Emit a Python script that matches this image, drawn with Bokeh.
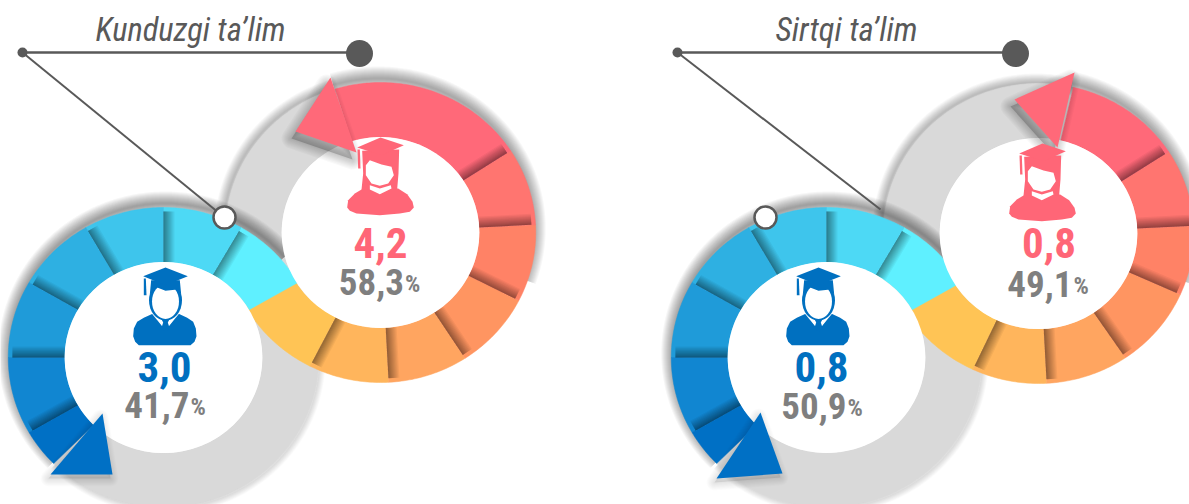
import numpy as np
from bokeh.plotting import figure
from bokeh.models import Range1d
from bokeh.core.properties import value
from bokeh.embed import file_html
from bokeh.resources import INLINE

# ---- data ----
titles = ["Kunduzgi ta\u2019lim", "Sirtqi ta\u2019lim"]
male_values = ["3,0", "0,8"]
male_shares = ["41,7", "50,9"]
female_values = ["4,2", "0,8"]
female_shares = ["58,3", "49,1"]
percent_sign = "%"

# ---- styles ----
BLUE_SEGMENTS = ["#5FF0FF", "#4DD9F5", "#3EC5EC", "#2EB0E2", "#1F9BD9", "#1186D1", "#0070C5"]
WARM_SEGMENTS = ["#FFC455", "#FFB55C", "#FFA560", "#FF9561", "#FF8266", "#FF7570", "#FF6979"]
BLUE = "#0070C0"
ROSE = "#FF6677"
ARROW_BLUE = "#0070C5"
ARROW_ROSE = "#FF6979"
RING_GREY = "#D9D9D9"
TEXT_GREY = "#7F7F7F"
INK = "#595959"
FONT = "Roboto Condensed"

# ---- layout, in page pixels ----
W, H = 1189, 504
p = figure(width=W, height=H, x_range=Range1d(0, W), y_range=Range1d(0, H),
           x_axis_type=None, y_axis_type=None, output_backend="svg", toolbar_location=None,
           min_border=0, outline_line_color=None, background_fill_color="white")
p.grid.visible = False

def Y(py):
    return 504 - py

R_OUT, R_IN = 150, 95.5
SX = 1.035   # the rings of the original are slightly wider than tall

panels = [
    dict(title_x=190, line=(22, 359), diag_end=(224, 217), marker=(224, 217),
         blue=(163, 357), rose=(380, 232),
         blue_edges=[30, 60, 90, 120, 150, 180, 210, 225],
         rose_edges=[210, 243, 273, 303, 333, 363, 393, 467],
         blue_arrow=[(102, 413), (50, 474), (112, 474)],
         rose_arrow=[(330, 77), (295, 131), (356, 152)],
         man=(165, 267), woman=(380, 137),
         val_b=(164, 382), share_b=(189, 418), val_r=(380, 258), share_r=(403.5, 295)),
    dict(title_x=846, line=(677, 1015), diag_end=(880, 209), marker=(765, 217),
         blue=(826, 357), rose=(1038, 233),
         blue_edges=[30, 60, 90, 120, 150, 180, 210, 225],
         rose_edges=[211, 245, 273, 304, 336, 363, 393, 437],
         blue_arrow=[(760, 412), (716, 478), (782, 473)],
         rose_arrow=[(1074, 72), (1014, 99), (1057, 147)],
         man=(818, 267), woman=(1042, 143),
         val_b=(821, 382), share_b=(846, 419), val_r=(1048.5, 258), share_r=(1072, 297)),
]

MAN_HAT = [(98, 78), (165, 52), (232, 78), (165, 105)]
MAN_TASSEL = [(100, 85), (106, 85), (108, 135), (100, 135)]
MAN_BODY = [(68, 258), (70, 235), (80, 215), (100, 203), (128, 190), (165, 240), (203, 190), (230, 203),
            (248, 215), (256, 235), (258, 258), (252, 275), (240, 285), (85, 285), (74, 275)]
MAN_V = [(122, 188), (165, 240), (208, 188), (190, 175), (140, 175)]
MAN_TIE = [(152, 205), (178, 205), (172, 217), (178, 236), (165, 244), (152, 236), (158, 217)]
MAN_HAIR = [(122, 90), (208, 90), (212, 132), (200, 118), (165, 122), (140, 112), (118, 132)]

WOMAN_HAT = [(112, 82), (182, 52), (252, 75), (185, 105)]
WOMAN_TASSEL = [(113, 88), (120, 88), (122, 145), (115, 145)]
WOMAN_HAIR = [(127, 92), (238, 88), (236, 160), (232, 207), (125, 209), (130, 160)]
WOMAN_FACE = [(150, 120), (185, 133), (215, 140), (222, 165), (205, 190), (180, 197), (155, 190),
              (138, 165), (138, 135)]
WOMAN_BODY = [(82, 262), (85, 240), (105, 220), (130, 205), (235, 205), (262, 222), (278, 245),
              (282, 262), (270, 275), (240, 280), (180, 285), (110, 280), (90, 272)]
WOMAN_COLLAR = [(150, 195), (180, 205), (213, 195), (215, 205), (180, 222), (150, 208)]


def arc_pts(cx, cy, r, a0, a1):
    t = np.deg2rad(np.linspace(a0, a1, max(8, int(abs(a1 - a0)) + 2)))
    return cx + SX * r * np.cos(t), Y(cy) + r * np.sin(t)


def soft_arc(cx, cy, r, a0, a1, spread, alpha, off=(0, 0), n=12):
    xs, ys = arc_pts(cx + off[0], cy + off[1], r, a0, a1)
    for k in range(1, n + 1):
        p.line(xs, ys, line_color="black", line_alpha=alpha / n, line_width=2 * k * spread / n)


def poly(pts, color, alpha=1.0):
    xs, ys = zip(*pts)
    p.patch(list(xs), [Y(y) for y in ys], fill_color=color, fill_alpha=alpha, line_color=None)


def soft_poly(pts, off, spread, alpha, n=9):
    xs = [x + off[0] for x, _ in pts]
    ys = [Y(y + off[1]) for _, y in pts]
    for k in range(1, n + 1):
        p.patch(xs, ys, fill_alpha=0, line_color="black", line_alpha=alpha / n,
                line_width=2 * k * spread / n, line_join="round")
    p.patch(xs, ys, fill_color="black", fill_alpha=alpha, line_color=None)


def band(cx, cy, a0, a1, color):
    ox, oy = arc_pts(cx, cy, R_OUT, a0, a1)
    ix, iy = arc_pts(cx, cy, R_IN, a0, a1)
    p.patch(np.r_[ox, ix[::-1]], np.r_[oy, iy[::-1]], fill_color=color, line_color=color, line_width=0.5)


def divider_shadow(cx, cy, angle, sign, width=11, alpha=0.5, n=11):
    a = np.deg2rad(angle)
    u = np.array([SX * np.cos(a), np.sin(a)])
    t = sign * np.array([-np.sin(a), np.cos(a)])
    for k in range(1, n + 1):
        w = width * (k / n) ** 1.2
        pts = [u * R_IN, u * (R_OUT - 4), u * (R_OUT - 4) + t * w, u * R_IN + t * w]
        p.patch([cx + q[0] for q in pts], [Y(cy) + q[1] for q in pts], fill_color="black",
                fill_alpha=alpha / n, line_color=None)


def icon(shapes, anchor, origin):
    ax, ay = anchor
    ox, oy = origin
    for pts, col in shapes:
        poly([(ax + (x - ox) / 3, ay + (y - oy) / 3) for x, y in pts], col)


def label(x, y, text, size, color, align="center", style="bold"):
    p.text([x], [Y(y - TEXT_LIFT[size])], text=[text], text_align=align, text_baseline="alphabetic",
           text_font=value(FONT), text_font_style=style, text_font_size=f"{size}px", text_color=color)


TEXT_LIFT = {32.5: 13, 43: 16, 37: 14, 24: 12}

for i, cfg in enumerate(panels):
    bx, by = cfg["blue"]
    rx, ry = cfg["rose"]
    be, re = cfg["blue_edges"], cfg["rose_edges"]

    # grey ring tails with their soft shadows
    soft_arc(bx, by, R_OUT, be[-1], 390, 6, 0.14, off=(1, 1))
    band(bx, by, be[-1], 390, RING_GREY)
    soft_arc(rx, ry, R_OUT, re[-1] - 360 if re[-1] > 360 else re[-1], re[0], 9, 0.28, off=(-2, -1))
    band(rx, ry, re[-1] - 360 if re[-1] > 360 else re[-1], re[0], RING_GREY)

    # coloured rose ring
    soft_arc(rx, ry, R_OUT, -20, re[-1] - 360, 12, 0.36, off=(-2, -4))
    for a0, a1, col in zip(re[:-1], re[1:], WARM_SEGMENTS):
        band(rx, ry, a0, a1, col)
    for a in re[1:-1]:
        divider_shadow(rx, ry, a, +1)

    # coloured blue ring
    soft_arc(bx, by, R_OUT, 40, be[-1], 12, 0.4, off=(2, -4))
    for a0, a1, col in zip(be[:-1], be[1:], BLUE_SEGMENTS):
        band(bx, by, a0, a1, col)
    for a in be[1:-1]:
        divider_shadow(bx, by, a, -1)

    # white hubs
    p.ellipse(bx, Y(by), width=2 * R_IN * SX, height=2 * R_IN, fill_color="white", line_color=None)
    p.ellipse(rx, Y(ry), width=2 * R_IN * SX, height=2 * R_IN, fill_color="white", line_color=None)

    # arrow heads
    soft_poly(cfg["blue_arrow"], (-2, 4), 8, 0.09)
    poly(cfg["blue_arrow"], ARROW_BLUE)
    soft_poly(cfg["rose_arrow"], (-4, 7), 10, 0.2)
    poly(cfg["rose_arrow"], ARROW_ROSE)

    # graduate icons
    mx, my = cfg["man"]
    icon([(MAN_BODY, BLUE), (MAN_V, "white"), (MAN_TIE, BLUE)], (mx, my), (165, 52))
    p.ellipse(mx, Y(my + 33), width=33, height=40, fill_color=BLUE, line_color=None)
    p.ellipse(mx, Y(my + 34), width=27, height=35, fill_color="white", line_color=None)
    icon([(MAN_HAIR, BLUE), (MAN_TASSEL, BLUE), (MAN_HAT, BLUE)], (mx, my), (165, 52))
    wx, wy = cfg["woman"]
    icon([(WOMAN_BODY, ROSE), (WOMAN_HAIR, ROSE), (WOMAN_FACE, "white"), (WOMAN_COLLAR, "white"),
          (WOMAN_TASSEL, ROSE), (WOMAN_HAT, ROSE)], (wx, wy), (182, 52))

    # call-out
    x0, x1 = cfg["line"]
    p.line([x0, x1], [Y(52), Y(52)], line_color=INK, line_width=2.5)
    dx, dy = cfg["diag_end"]
    p.line([x0, dx], [Y(52), Y(dy)], line_color=INK, line_width=2)
    p.circle(x0, Y(52), radius=5, fill_color=INK, line_color=None)
    p.circle(x1, Y(53), radius=13.5, fill_color=INK, line_color=None)
    mkx, mky = cfg["marker"]
    p.circle(mkx, Y(mky), radius=11, fill_color="white", line_color=INK, line_width=2.5)

    # texts
    label(cfg["title_x"], 42, titles[i], 32.5, INK, style="italic")
    label(*cfg["val_b"], male_values[i], 43, BLUE)
    label(*cfg["val_r"], female_values[i], 43, ROSE)
    for (tx, ty), val in ((cfg["share_b"], male_shares[i]), (cfg["share_r"], female_shares[i])):
        label(tx, ty, val, 37, TEXT_GREY, align="right")
        label(tx + 1, ty, percent_sign, 24, TEXT_GREY, align="left")

open("out.html", "w").write(file_html(p, INLINE))
